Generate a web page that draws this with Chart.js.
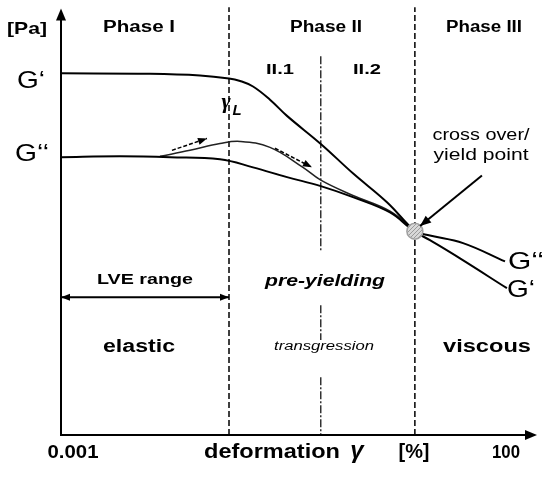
<!DOCTYPE html>
<html>
<head>
<meta charset="utf-8">
<script src="https://cdn.jsdelivr.net/npm/chart.js@4.4.0/dist/chart.umd.min.js"></script>
<style>
  html, body { margin: 0; padding: 0; background: #fff; }
  #wrap { width: 545px; height: 477px; }
</style>
</head>
<body>
<div id="wrap"><canvas id="ampSweep"></canvas></div>
<script>
// amplitude sweep, strain on a log axis (%), moduli in arbitrary units
const strainTicks = [0.001, 100];
const gPrimeX = [0.001, 0.0107, 0.0403, 0.0871, 0.117, 0.165, 0.259, 0.407, 1, 2.35, 5.81, 12.2, 18.2, 40.5, 141];
const gPrimeY = [85.0, 84.9, 84.5, 83.8, 83.2, 81.9, 78.8, 75.0, 68.4, 61.5, 54.7, 47.9, 45.8, 41.5, 34.5];
const gDblX = [0.001, 0.0048, 0.0182, 0.0686, 0.165, 0.407, 1, 2.35, 6.3, 12.2, 18.2, 43.9, 134];
const gDblY = [65.3, 65.5, 65.3, 64.8, 62.9, 60.6, 58.5, 55.9, 52.3, 47.9, 46.9, 45.1, 40.8];
// G'' overshoot branch, merging into G'' before the cross over
const gDblUpX = [0.0139, 0.0309, 0.0686, 0.117, 0.259, 0.622, 1, 2.35, 6.3, 12.2];
const gDblUpY = [65.5, 66.9, 68.5, 69.0, 67.6, 62.9, 59.9, 56.3, 52.6, 47.9];
const lveLimit = 0.0871;   // gamma_L
const subSplit = 1;        // II.1 / II.2
const flowPoint = 12.2;    // cross over
const crossOver = [12.2, 47.9];

const pts = (xs, ys) => xs.map((x, i) => ({ x: x, y: ys[i] }));
const vline = (x, y0, y1) => [{ x: x, y: y0 }, { x: x, y: y1 }];

// hatched fill for the cross-over dot
const hatch = document.createElement('canvas');
hatch.width = 4; hatch.height = 4;
const hc = hatch.getContext('2d');
hc.fillStyle = '#d8d8d8'; hc.fillRect(0, 0, 4, 4);
hc.strokeStyle = '#9a9a9a'; hc.lineWidth = 1;
hc.beginPath(); hc.moveTo(0, 4); hc.lineTo(4, 0); hc.stroke();
const hatchFill = hc.createPattern(hatch, 'repeat');

const FONT = '"Liberation Sans", Arial, sans-serif';

function label(ctx, str, cx, by, font, w) {
  ctx.font = font + ' ' + FONT;
  const m = ctx.measureText(str).width;
  const sx = w ? w / m : 1;
  ctx.save();
  ctx.translate(cx, by);
  ctx.scale(sx, 1);
  ctx.textAlign = 'center';
  ctx.textBaseline = 'alphabetic';
  ctx.fillStyle = '#000';
  ctx.fillText(str, 0, 0);
  ctx.restore();
}

function head(ctx, x1, y1, x2, y2, len, wid) {
  const a = Math.atan2(y2 - y1, x2 - x1);
  ctx.beginPath();
  ctx.moveTo(x2, y2);
  ctx.lineTo(x2 - len * Math.cos(a) + wid * Math.sin(a), y2 - len * Math.sin(a) - wid * Math.cos(a));
  ctx.lineTo(x2 - len * Math.cos(a) - wid * Math.sin(a), y2 - len * Math.sin(a) + wid * Math.cos(a));
  ctx.closePath();
  ctx.fill();
}

function arrow(ctx, x1, y1, x2, y2, opts) {
  ctx.save();
  ctx.strokeStyle = '#000'; ctx.fillStyle = '#000';
  ctx.lineWidth = opts.width || 1.5;
  ctx.setLineDash(opts.dash || []);
  ctx.beginPath(); ctx.moveTo(x1, y1); ctx.lineTo(x2, y2); ctx.stroke();
  ctx.setLineDash([]);
  head(ctx, x1, y1, x2, y2, opts.len || 9, opts.wid || 3.5);
  if (opts.both) head(ctx, x2, y2, x1, y1, opts.len || 9, opts.wid || 3.5);
  ctx.restore();
}

const annotations = {
  id: 'annotations',
  afterDatasetsDraw(chart) {
    const ctx = chart.ctx;
    const xs = chart.scales.x, ys = chart.scales.y;
    const X = v => xs.getPixelForValue(v), Y = v => ys.getPixelForValue(v);
    const left = chart.chartArea.left, bottom = chart.chartArea.bottom, top = chart.chartArea.top;

    // axes with arrow heads
    ctx.save();
    ctx.strokeStyle = '#000'; ctx.fillStyle = '#000'; ctx.lineWidth = 2;
    ctx.beginPath(); ctx.moveTo(left, bottom + 1); ctx.lineTo(left, top + 4); ctx.stroke();
    head(ctx, left, bottom, left, top - 1, 12, 5);
    ctx.beginPath(); ctx.moveTo(left - 1, bottom); ctx.lineTo(530, bottom); ctx.stroke();
    head(ctx, left, bottom, 537, bottom, 12, 5);
    ctx.restore();

    // strain tick labels
    label(ctx, '0.001', X(strainTicks[0]) + 12, 458, 'bold 19px', 51);
    label(ctx, '100', X(strainTicks[1]) + 12, 458, 'bold 19px', 28);
    label(ctx, 'deformation', 272, 458, 'bold 20px', 136);
    label(ctx, 'γ', 357, 458, 'italic bold 24px', 0);
    label(ctx, '[%]', 414, 458, 'bold 20px', 31);

    // y axis
    label(ctx, '[Pa]', 27, 34, 'bold 17px', 40);
    label(ctx, 'G‘', 31, 88, '24px', 28);
    label(ctx, 'G‘‘', 32, 161, '24px', 34);

    // phases
    label(ctx, 'Phase I', 139, 32, 'bold 16px', 72);
    label(ctx, 'Phase II', 326, 32, 'bold 16px', 72);
    label(ctx, 'Phase III', 484, 32, 'bold 16px', 76);
    label(ctx, 'II.1', 280, 74, 'bold 15px', 28);
    label(ctx, 'II.2', 367, 74, 'bold 15px', 28);

    // gamma_L
    ctx.save();
    ctx.fillStyle = '#000';
    ctx.font = 'italic bold 22px "Liberation Serif", serif';
    ctx.textAlign = 'center';
    ctx.fillText('γ', X(lveLimit) - 3, 108);
    ctx.font = 'italic bold 15px ' + FONT;
    ctx.fillText('L', X(lveLimit) + 8, 115);
    ctx.restore();

    // overshoot arrows along G''
    arrow(ctx, X(0.0191), Y(66.9), X(0.0485), Y(69.7), { dash: [4, 2], width: 1.5, len: 9, wid: 3.5 });
    arrow(ctx, X(0.296), Y(67.4), X(0.79), Y(62.9), { dash: [4, 2], width: 1.5, len: 9, wid: 3.5 });

    // cross over
    label(ctx, 'cross over/', 481, 140, '16px', 97);
    label(ctx, 'yield point', 481, 160, '16px', 95);
    arrow(ctx, X(72.6), Y(61.0), X(14.0), Y(49.1), { width: 2, len: 11, wid: 4.5 });
    label(ctx, 'G‘‘', 526, 269, '24px', 36);
    label(ctx, 'G‘', 521, 297, '24px', 28);

    // ranges
    arrow(ctx, X(strainTicks[0]), Y(32.4), X(lveLimit), Y(32.4), { width: 2, len: 9, wid: 3.5, both: true });
    label(ctx, 'LVE range', 145, 284, 'bold 15px', 96);
    label(ctx, 'pre-yielding', 325, 286, 'italic bold 17px', 120);
    label(ctx, 'elastic', 139, 352, 'bold 18px', 72);
    label(ctx, 'transgression', 324, 350, 'italic 12px', 100);
    label(ctx, 'viscous', 487, 352, 'bold 18px', 88);
  }
};

const curve = (data, color, width) => ({
  data: data, borderColor: color, borderWidth: width, pointRadius: 0,
  tension: 0.4, clip: false, order: 2
});
const guide = (data, dash, width) => ({
  data: data, borderColor: '#000', borderWidth: width, borderDash: dash,
  pointRadius: 0, tension: 0, spanGaps: false, clip: false, order: 3
});

new Chart(document.getElementById('ampSweep'), {
  type: 'line',
  data: {
    datasets: [
      guide(vline(lveLimit, 0, 100.5), [6, 3], 1.5),
      guide(vline(flowPoint, 0, 100.5), [6, 3], 1.5),
      guide([{ x: subSplit, y: 89 }, { x: subSplit, y: 43 }, { x: subSplit, y: null },
             { x: subSplit, y: 30.5 }, { x: subSplit, y: 22.3 }, { x: subSplit, y: null },
             { x: subSplit, y: 13.6 }, { x: subSplit, y: 0 }], [8, 2, 2, 2], 1.2),
      curve(pts(gPrimeX, gPrimeY), '#000', 2),
      curve(pts(gDblX, gDblY), '#000', 2),
      curve(pts(gDblUpX, gDblUpY), '#222', 1.5),
      {
        data: [{ x: crossOver[0], y: crossOver[1] }],
        showLine: false, pointRadius: 8, pointHoverRadius: 8,
        pointBackgroundColor: hatchFill, pointBorderColor: '#a0a0a0', pointBorderWidth: 1.5,
        clip: false, order: 1
      }
    ]
  },
  options: {
    responsive: true,
    maintainAspectRatio: false,
    animation: false,
    devicePixelRatio: 1,
    layout: { padding: { left: 61, right: 51, top: 9, bottom: 42 } },
    plugins: { legend: { display: false }, tooltip: { enabled: false } },
    events: [],
    scales: {
      x: { type: 'logarithmic', min: 0.001, max: 100, display: false },
      y: { type: 'linear', min: 0, max: 100, display: false }
    }
  },
  plugins: [annotations]
});
</script>
</body>
</html>
